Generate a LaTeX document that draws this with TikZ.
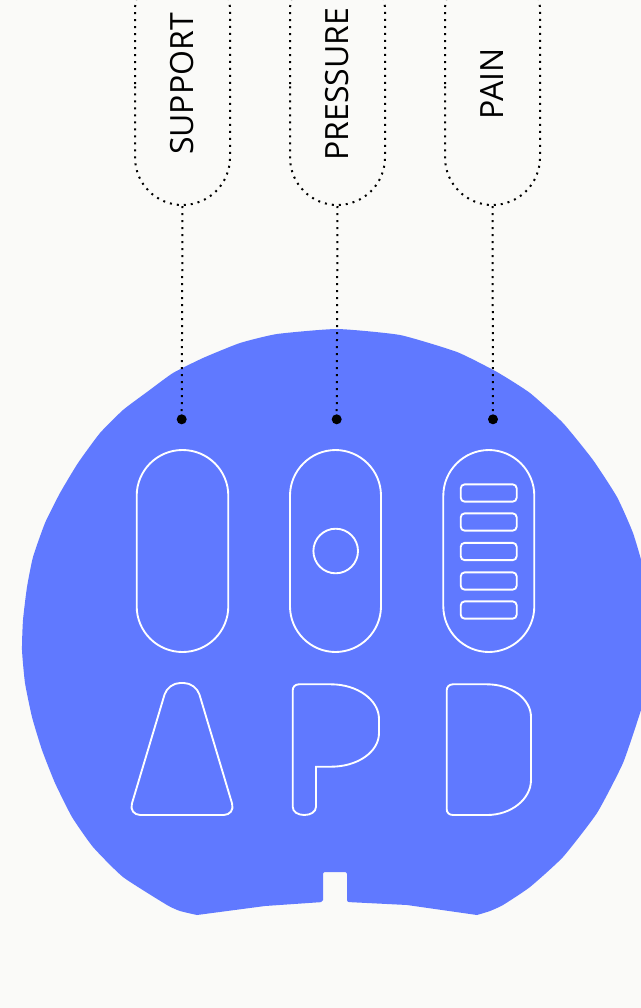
\documentclass[tikz,border=0pt]{standalone}
\usepackage{fontspec}
\setmainfont{Open Sans}
\usetikzlibrary{shapes.misc}
\definecolor{bg}{RGB}{250,250,248}
\definecolor{blob}{RGB}{96,121,255}
\begin{document}
\begin{tikzpicture}[x=0.75pt,y=-0.75pt,
  tag/.style={rounded rectangle, rotate=90, draw=black, line width=1.5pt,
    dash pattern=on 1.5pt off 3.75pt, minimum width=181.5pt, minimum height=71.25pt,
    inner sep=0pt, font=\fontsize{24pt}{28pt}\selectfont},
  link/.style={draw=black, line width=1.5pt, dash pattern=on 1.5pt off 3.75pt},
  pin/.style={circle, fill=black, minimum size=7.5pt, inner sep=0pt},
  cut/.style={draw=white, line width=1.4pt}]
\fill[bg] (0,0) rectangle (641,1008);
\useasboundingbox (0,0) rectangle (641,1008);
\clip (0,0) rectangle (641,1008);
% blob
\fill[blob] (265,906) -- plot[smooth, tension=0.3] coordinates {
 (197,915) (180,911) (167,905) (123,877) (93,847) (72,817)
 (55,783) (42,750) (32,717) (25,683) (22,650) (23,620) (27,587) (33,557)
 (45,523) (60,493) (78,463) (100,433) (123,410) (147,392) (173,373)
 (203,358) (240,343) (277,334) (337,329) (400,335) (457,352) (497,372)
 (530,393) (563,423) (593,460) (617,497) (633,533) (645,575) (649,620)
 (650,655) (647,685) (641,710) (623,763) (597,813) (563,857) (530,887)
 (503,905) (490,911) (477,915)}
 -- (407,905) [rounded corners=1.5pt] -- (347,902) -- (347,872) -- (323,872) -- (323,902) [sharp corners] -- cycle;
% labels
\node[tag] (sup) at (182.5,84) {SUPPORT};
\node[tag] (pre) at (337.5,84) {PRESSURE};
\node[tag] (pai) at (492.5,84) {PAIN};
\node[pin] (d1) at (181.7,419.3) {};
\node[pin] (d2) at (336.7,419.3) {};
\node[pin] (d3) at (493,419.3) {};
\draw[link] (sup.west) -- (d1.center);
\draw[link] (pre.west) -- (d2.center);
\draw[link] (pai.west) -- (d3.center);
% capsules
\draw[cut, rounded corners=34.3pt] (136.7,450) rectangle (228.3,652);
\draw[cut, rounded corners=34.3pt] (290,450) rectangle (381,652);
\draw[cut, rounded corners=34.3pt] (443.3,450) rectangle (534.3,652);
\draw[cut] (335.7,551) circle[radius=22.3];
\foreach \yy in {493,522,551.5,581,610}
  \draw[cut, rounded corners=3pt] (460.7,\yy-8.65) rectangle (516.7,\yy+8.65);
% A shape
\draw[cut, rounded corners=9pt] (182,815) -- (235.5,815) -- (196,683) -- (168,683) -- (128.5,815) -- cycle;
% P shape
\draw[cut] (292.7,806.7) -- (292.7,690.5) .. controls (292.7,687) and (295,684.3) .. (299,684.3)
  -- (331,684.3) .. controls (357.5,684.3) and (379,700) .. (379,719)
  -- (379,733) .. controls (379,752) and (357.5,766.7) .. (331,766.7)
  -- (316,766.7) -- (316,806.7) .. controls (316,812) and (310.5,815) .. (304.3,815)
  .. controls (298,815) and (292.7,812) .. (292.7,806.7) -- cycle;
% D shape
\draw[cut] (446.7,690.5) .. controls (446.7,687) and (449,684.3) .. (453,684.3)
  -- (487,684.3) .. controls (511.3,684.3) and (531,699) .. (531,717)
  -- (531,780) .. controls (531,799) and (511.3,815) .. (487,815)
  -- (453,815) .. controls (449,815) and (446.7,812.5) .. (446.7,809) -- cycle;
\end{tikzpicture}
\end{document}
